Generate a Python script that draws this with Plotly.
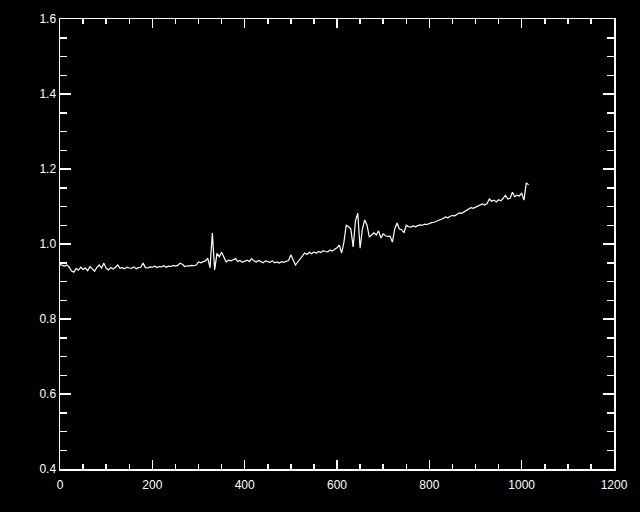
import plotly.graph_objects as go

x_start = 0
x_step = 5
flux = [
    0.945, 0.943, 0.941, 0.944, 0.938, 0.928, 0.925, 0.935, 0.930, 0.938,
    0.932, 0.936, 0.929, 0.940, 0.933, 0.927, 0.938, 0.944, 0.936, 0.949,
    0.935, 0.931, 0.937, 0.933, 0.938, 0.944, 0.935, 0.937, 0.934, 0.938,
    0.936, 0.935, 0.939, 0.934, 0.937, 0.938, 0.949, 0.937, 0.936, 0.939,
    0.938, 0.941, 0.937, 0.940, 0.939, 0.942, 0.938, 0.941, 0.940, 0.943,
    0.941, 0.943, 0.949, 0.946, 0.940, 0.942, 0.941, 0.943, 0.942, 0.944,
    0.952, 0.950, 0.953, 0.955, 0.962, 0.937, 1.029, 0.931, 0.975, 0.966,
    0.978, 0.963, 0.952, 0.957, 0.955, 0.958, 0.961, 0.953, 0.956, 0.951,
    0.954, 0.957, 0.953, 0.961, 0.955, 0.952, 0.956, 0.954, 0.950, 0.955,
    0.953, 0.951, 0.955, 0.950, 0.952, 0.949, 0.953, 0.951, 0.954, 0.956,
    0.971, 0.958, 0.944, 0.952, 0.961, 0.968, 0.976, 0.972, 0.978, 0.974,
    0.979, 0.975, 0.980, 0.977, 0.982, 0.980, 0.979, 0.984, 0.981, 0.986,
    0.990, 0.997, 0.976, 1.005, 1.050, 1.046, 1.040, 0.992, 1.062, 1.082,
    0.989, 1.040, 1.064, 1.050, 1.019, 1.024, 1.030, 1.024, 1.035, 1.016,
    1.027, 1.022, 1.020, 1.021, 1.005, 1.040, 1.056, 1.040, 1.038, 1.030,
    1.050, 1.046, 1.045, 1.048, 1.046, 1.049, 1.051, 1.050, 1.053, 1.052,
    1.055, 1.057, 1.058, 1.060, 1.062, 1.066, 1.068, 1.072, 1.070, 1.074,
    1.076, 1.075, 1.080, 1.083, 1.082, 1.086, 1.090, 1.094, 1.097, 1.095,
    1.098, 1.102, 1.105, 1.107, 1.104, 1.108, 1.120, 1.114, 1.117, 1.112,
    1.118, 1.115, 1.122, 1.130, 1.120, 1.122, 1.138, 1.126, 1.130, 1.128,
    1.135, 1.117, 1.163, 1.158,
]
pixel = [x_start + i * x_step for i in range(len(flux))]

x_ticks = [0, 200, 400, 600, 800, 1000, 1200]
y_ticks = [0.4, 0.6, 0.8, 1.0, 1.2, 1.4, 1.6]

fig = go.Figure()
fig.add_trace(go.Scatter(x=pixel, y=flux, mode="lines",
                         line=dict(color="white", width=1.2),
                         showlegend=False, hoverinfo="skip"))

axis_common = dict(
    showgrid=False, zeroline=False, showline=True, linecolor="white",
    linewidth=1.5, mirror="allticks", ticks="inside", tickcolor="white",
    tickwidth=1.5, tickfont=dict(family="Liberation Sans", size=12, color="white"),
)
fig.update_xaxes(range=[0, 1200], tickvals=x_ticks,
                 ticktext=[str(v) for v in x_ticks], ticklen=9,
                 ticklabelstandoff=4,
                 minor=dict(ticks="inside", ticklen=5, dtick=50, tick0=0,
                            tickcolor="white", tickwidth=1.5, showgrid=False),
                 **axis_common)
fig.update_yaxes(range=[0.4, 1.6], tickvals=y_ticks,
                 ticktext=["%.1f" % v for v in y_ticks], ticklen=11,
                 minor=dict(ticks="inside", ticklen=7, dtick=0.05, tick0=0.4,
                            tickcolor="white", tickwidth=1.5, showgrid=False),
                 **axis_common)
fig.update_layout(width=640, height=512,
                  margin=dict(l=60, r=19, t=19, b=43),
                  paper_bgcolor="black", plot_bgcolor="black")
fig.write_html("out.html",
               config={"displayModeBar": False, "staticPlot": True},
               post_script="document.body.style.margin='0';"
                           "document.body.style.background='black';"
                           "document.body.style.overflow='hidden';")
